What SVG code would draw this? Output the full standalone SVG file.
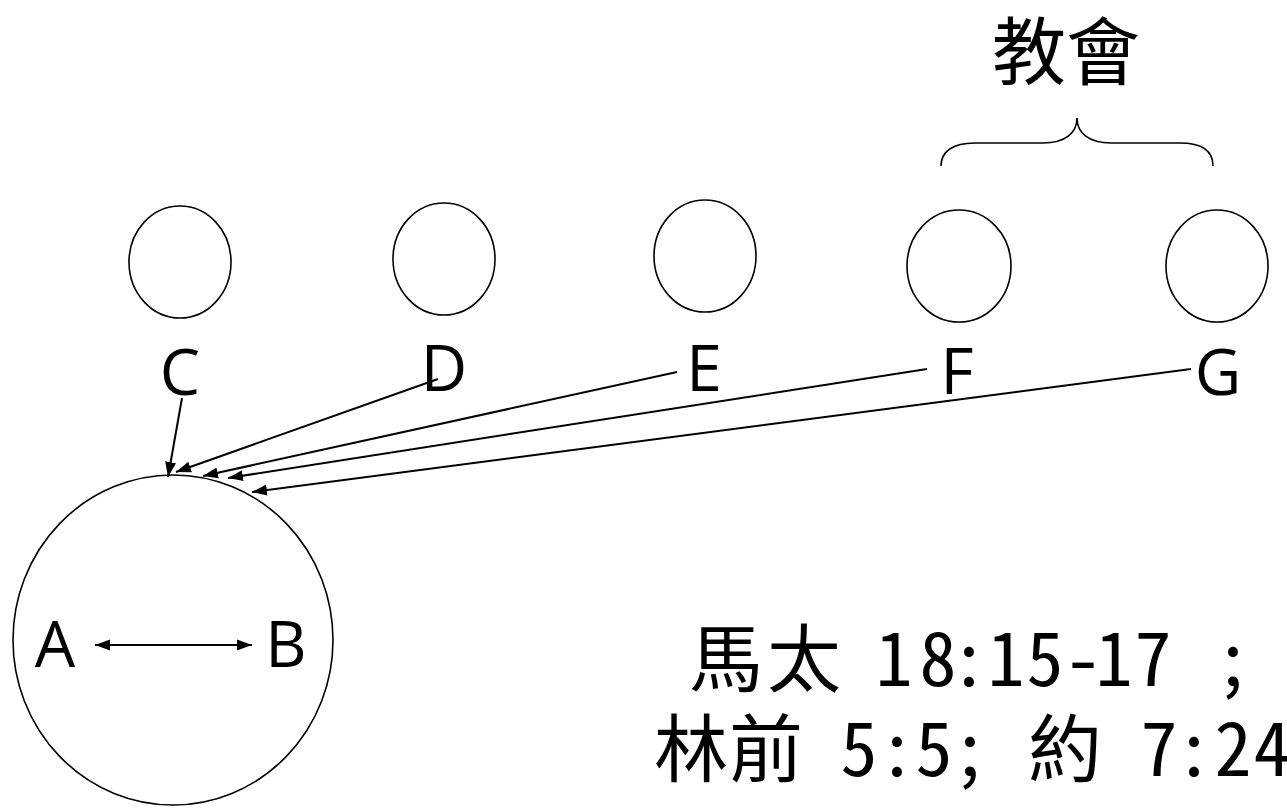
<svg xmlns="http://www.w3.org/2000/svg" width="1287" height="808" viewBox="0 0 1287 808">
<style>
  .node { fill: #ffffff; stroke: #000000; stroke-width: 1.6; }
  .lbl { font-family: "Open Sans", "Noto Sans", sans-serif; font-size: 64px; fill: #000000; text-anchor: middle; }
  .cjk { font-family: "Noto Sans CJK TC", "Noto Sans CJK JP", sans-serif; font-size: 74px; fill: #000000; }
  .ref { font-family: "Noto Sans Mono CJK TC", "Noto Sans Mono CJK JP", "Noto Sans CJK TC", sans-serif; font-size: 74px; fill: #000000; }
  .conn { stroke: #000000; stroke-width: 2; fill: none; }
  .brace { stroke: #000000; stroke-width: 1.6; fill: none; }
</style>
<defs>
  <marker id="arrow" markerUnits="userSpaceOnUse" markerWidth="16" markerHeight="12" viewBox="0 0 16 12" refX="15" refY="6" orient="auto-start-reverse">
    <path d="M0,0.5 L15,6 L0,11.5 Z" fill="#000000"/>
  </marker>
</defs>
<rect x="0" y="0" width="1287" height="808" fill="#ffffff"/>

<g id="node-C">
  <ellipse class="node" cx="180" cy="262" rx="51" ry="56"/>
  <text class="lbl" x="180" y="395">C</text>
</g>
<g id="node-D">
  <ellipse class="node" cx="444" cy="259" rx="51" ry="56"/>
  <text class="lbl" x="444" y="391">D</text>
</g>
<g id="node-E">
  <ellipse class="node" cx="705" cy="256" rx="51" ry="56"/>
  <text class="lbl" x="704" y="391">E</text>
</g>
<g id="node-F">
  <ellipse class="node" cx="959" cy="266" rx="52" ry="56"/>
  <text class="lbl" x="957" y="394">F</text>
</g>
<g id="node-G">
  <ellipse class="node" cx="1217" cy="266" rx="51" ry="56"/>
  <text class="lbl" x="1218" y="395">G</text>
</g>
<g id="node-AB">
  <ellipse class="node" cx="173" cy="640" rx="160" ry="165"/>
  <text class="lbl" x="55" y="667">A</text>
  <text class="lbl" x="286" y="667">B</text>
</g>

<g id="church">
  <path class="brace" d="M941,166 C941,152 952,143 975,143 L1043,143 C1065,143 1077,133 1077,118 C1077,133 1089,143 1111,143 L1180,143 C1203,143 1213,152 1213,166"/>
  <text class="cjk" x="1066" y="79" text-anchor="middle">教會</text>
</g>

<g id="connectors">
  <line class="conn" x1="182" y1="398" x2="168" y2="477" marker-end="url(#arrow)"/>
  <line class="conn" x1="438" y1="379" x2="176" y2="472" marker-end="url(#arrow)"/>
  <line class="conn" x1="677" y1="372" x2="203" y2="476" marker-end="url(#arrow)"/>
  <line class="conn" x1="927" y1="369" x2="228" y2="478" marker-end="url(#arrow)"/>
  <line class="conn" x1="1191" y1="369" x2="252" y2="492" marker-end="url(#arrow)"/>
  <line class="conn" x1="95" y1="645" x2="252" y2="645" marker-start="url(#arrow)" marker-end="url(#arrow)"/>
</g>

<g id="reference">
  <text class="ref" y="686" x="689 767 840 875.5 919.5 950.5 987.5 1026.5 1064.5 1095.5 1134.5 1180 1214.5">馬太 18:15-17 ;</text>
  <text class="ref" y="776" x="654 729 805 840.5 878.5 915.5 951.5 990 1028 1110 1140.5 1175.5 1214.5 1253.5">林前 5:5; 約 7:24</text>
</g>
</svg>
